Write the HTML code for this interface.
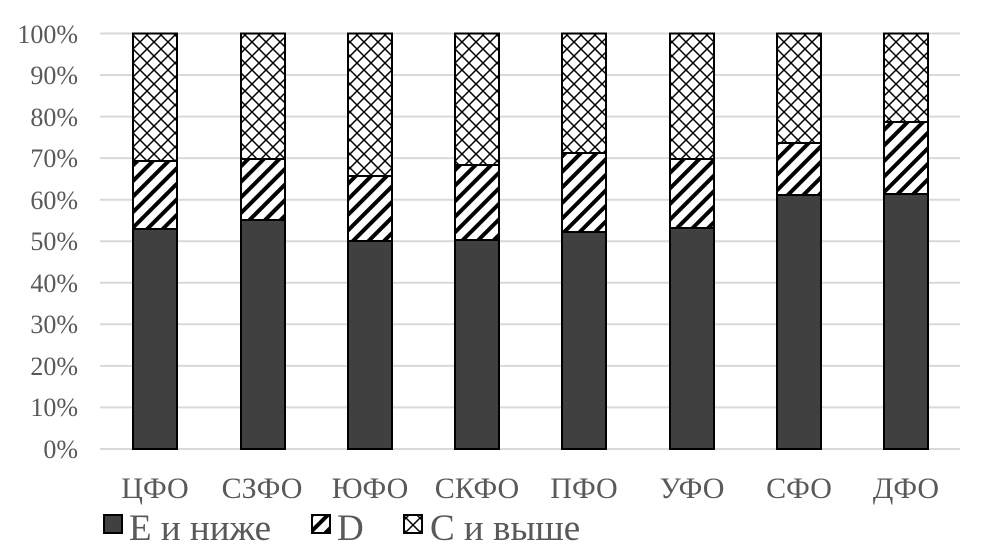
<!DOCTYPE html>
<html><head><meta charset="utf-8"><style>body{margin:0;background:#fff}svg{display:block}</style></head><body>
<svg width="981" height="550" xmlns="http://www.w3.org/2000/svg" font-family="Liberation Serif, serif">
<defs>
<pattern id="diag" width="11" height="11" patternUnits="userSpaceOnUse" patternTransform="rotate(45)">
<rect width="11" height="11" fill="#fff"/><rect x="0" y="0" width="4" height="11" fill="#000"/>
</pattern>
<pattern id="cross" width="14" height="14" patternUnits="userSpaceOnUse">
<rect width="14" height="14" fill="#fff"/><path d="M0 0L14 14M14 0L0 14" stroke="#000" stroke-width="1.5"/>
</pattern>
</defs>
<g stroke="#d9d9d9" stroke-width="2">
<line x1="100" x2="960" y1="449" y2="449"/><line x1="100" x2="960" y1="407.4" y2="407.4"/>
<line x1="100" x2="960" y1="365.9" y2="365.9"/><line x1="100" x2="960" y1="324.3" y2="324.3"/>
<line x1="100" x2="960" y1="282.8" y2="282.8"/><line x1="100" x2="960" y1="241.2" y2="241.2"/>
<line x1="100" x2="960" y1="199.7" y2="199.7"/><line x1="100" x2="960" y1="158.1" y2="158.1"/>
<line x1="100" x2="960" y1="116.6" y2="116.6"/><line x1="100" x2="960" y1="75" y2="75"/>
<line x1="100" x2="960" y1="33.5" y2="33.5"/>
</g>
<g font-size="26" fill="#595959" text-anchor="end">
<text x="78" y="458">0%</text><text x="78" y="416">10%</text><text x="78" y="375">20%</text>
<text x="78" y="333">30%</text><text x="78" y="292">40%</text><text x="78" y="250">50%</text>
<text x="78" y="209">60%</text><text x="78" y="167">70%</text><text x="78" y="126">80%</text>
<text x="78" y="84">90%</text><text x="78" y="43">100%</text>
</g>
<g stroke="#000" stroke-width="2">
<rect x="133" y="33.5" width="44" height="127.5" fill="url(#cross)"/><rect x="133" y="161" width="44" height="68" fill="url(#diag)"/><rect x="133" y="229" width="44" height="220" fill="#404040"/>
<rect x="241" y="33.5" width="44" height="125.5" fill="url(#cross)"/><rect x="241" y="159" width="44" height="61" fill="url(#diag)"/><rect x="241" y="220" width="44" height="229" fill="#404040"/>
<rect x="348" y="33.5" width="44" height="142.5" fill="url(#cross)"/><rect x="348" y="176" width="44" height="65" fill="url(#diag)"/><rect x="348" y="241" width="44" height="208" fill="#404040"/>
<rect x="455" y="33.5" width="44" height="131.5" fill="url(#cross)"/><rect x="455" y="165" width="44" height="75" fill="url(#diag)"/><rect x="455" y="240" width="44" height="209" fill="#404040"/>
<rect x="562" y="33.5" width="44" height="119.5" fill="url(#cross)"/><rect x="562" y="153" width="44" height="79" fill="url(#diag)"/><rect x="562" y="232" width="44" height="217" fill="#404040"/>
<rect x="670" y="33.5" width="44" height="125.5" fill="url(#cross)"/><rect x="670" y="159" width="44" height="69" fill="url(#diag)"/><rect x="670" y="228" width="44" height="221" fill="#404040"/>
<rect x="777" y="33.5" width="44" height="109.5" fill="url(#cross)"/><rect x="777" y="143" width="44" height="52" fill="url(#diag)"/><rect x="777" y="195" width="44" height="254" fill="#404040"/>
<rect x="884" y="33.5" width="44" height="88.5" fill="url(#cross)"/><rect x="884" y="122" width="44" height="72" fill="url(#diag)"/><rect x="884" y="194" width="44" height="255" fill="#404040"/>
</g>
<g font-size="30" fill="#595959" text-anchor="middle">
<text x="155" y="498">ЦФО</text><text x="262" y="498">СЗФО</text><text x="370" y="498">ЮФО</text>
<text x="477" y="498">СКФО</text><text x="584" y="498">ПФО</text><text x="692" y="498">УФО</text>
<text x="799" y="498">СФО</text><text x="906" y="498">ДФО</text>
</g>
<g stroke="#000" stroke-width="2">
<rect x="104" y="515" width="18" height="18" fill="#404040"/>
<rect x="312" y="515" width="18" height="18" fill="url(#diag)"/>
<rect x="404" y="515" width="18" height="18" fill="url(#cross)"/>
</g>
<g font-size="37" fill="#595959">
<text x="129" y="540">Е и ниже</text><text x="337" y="540">D</text><text x="430" y="540">С и выше</text>
</g>
</svg>
</body></html>
